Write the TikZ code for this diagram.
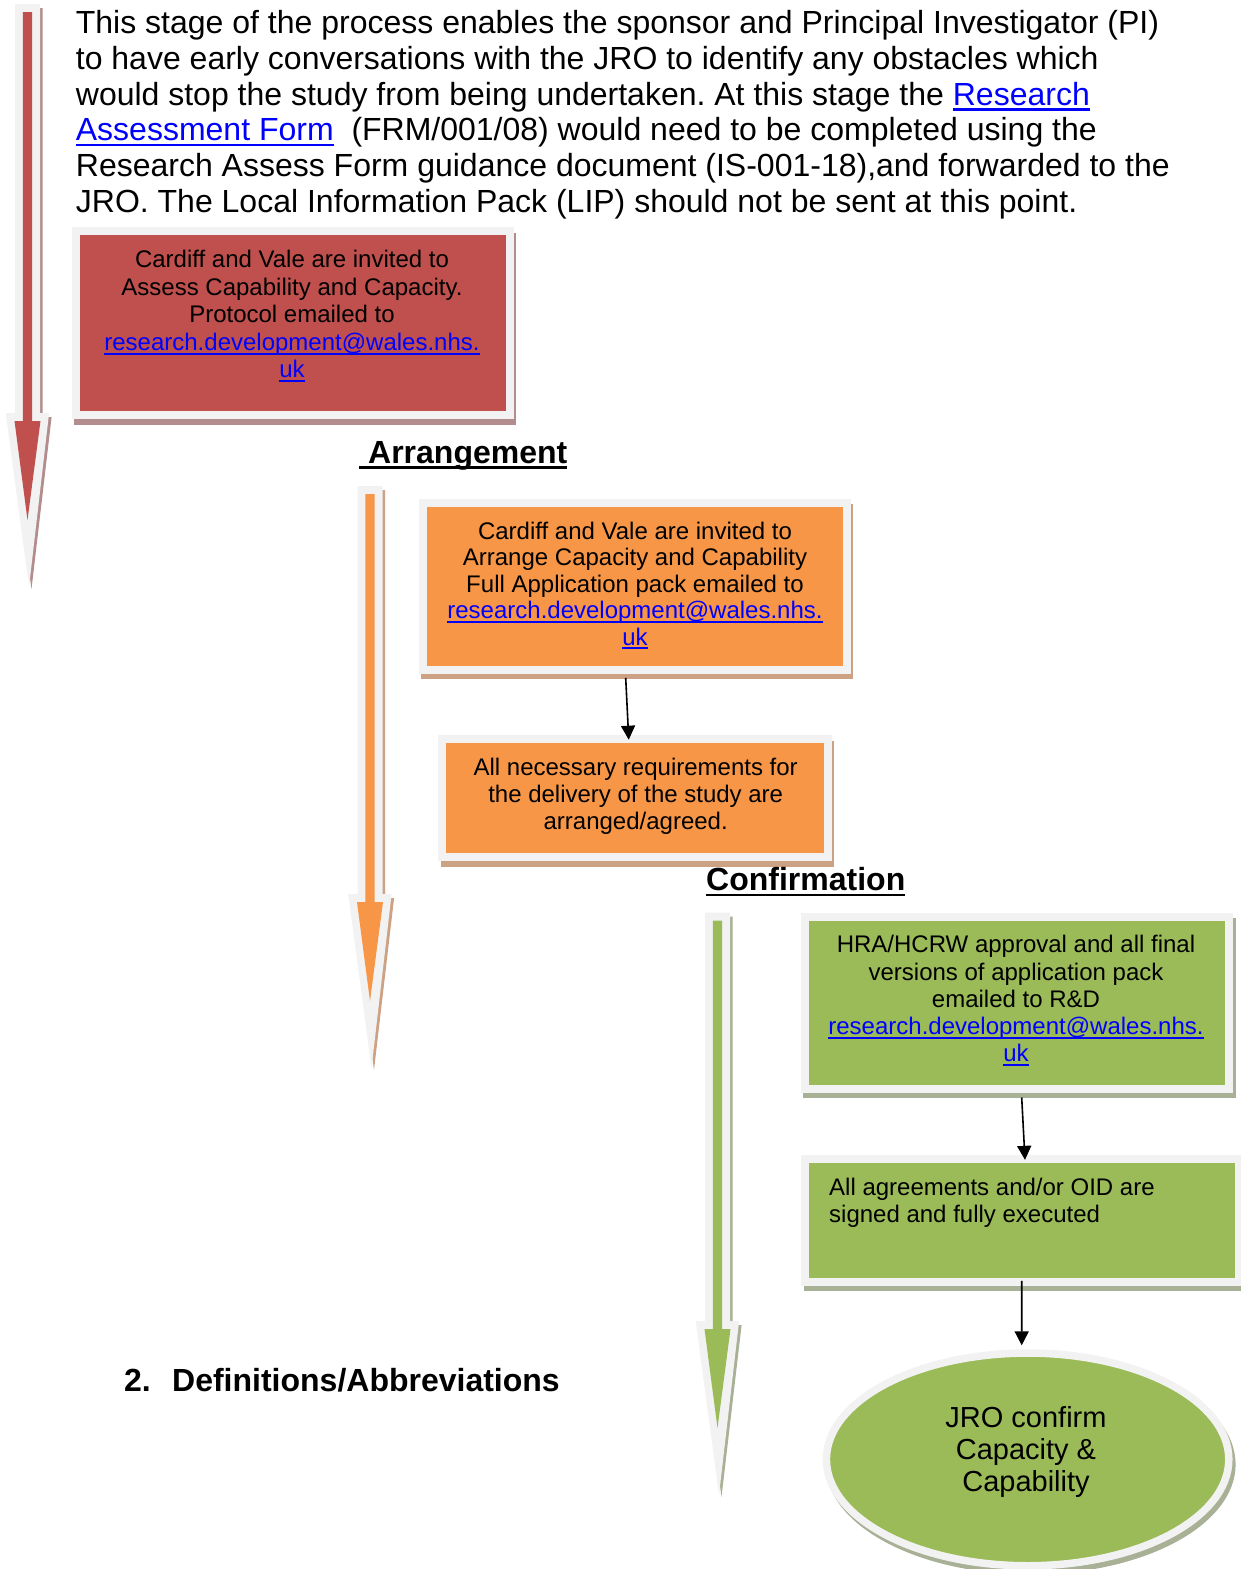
\documentclass[tikz,border=0pt]{standalone}
\usepackage{fontspec}
\setmainfont{Liberation Sans}
\usetikzlibrary{arrows.meta,calc,backgrounds,shapes.geometric}

\definecolor{redfill}{HTML}{C0504D}
\definecolor{orangefill}{HTML}{F79646}
\definecolor{greenfill}{HTML}{9BBB59}
\definecolor{rim}{HTML}{F2F2F2}
\definecolor{redsh}{HTML}{B38D8D}
\definecolor{orangesh}{HTML}{CDA284}
\definecolor{greensh}{HTML}{A8B095}
\definecolor{linkblue}{HTML}{0000FF}

\frenchspacing
\newsavebox{\ulbox}
\newcommand{\myul}[1]{\leavevmode\sbox{\ulbox}{#1}\rlap{\rule[-0.17em]{\wd\ulbox}{0.08em}}\usebox{\ulbox}}
\newcommand{\lnk}[1]{\textcolor{linkblue}{\myul{#1}}}
\newcommand{\paraf}{\fontsize{32}{35.8}\selectfont\frenchspacing}
\newcommand{\boxf}{\fontsize{24}{27.2}\selectfont\frenchspacing}
\newcommand{\ovalf}{\fontsize{29}{32}\selectfont}
\newcommand{\headf}{\fontsize{32}{36}\selectfont\bfseries}

% big soft-edged down arrow: #1 centre x, #2 top, #3 head base, #4 fill, #5 shadow
\newcommand{\bigarrow}[5]{%
  \fill[#5] ({#1-12.5+2.5},{#2+4}) -- ({#1+12.5+2.5},{#2+4}) -- ({#1+12.5+2.5},{#3+4})
     -- ({#1+21.6+2.5},{#3+4}) -- ({#1+1.5+2.5},{#3+174+2}) -- ({#1-21.8+2.5},{#3+4})
     -- ({#1-12.5+2.5},{#3+4}) -- cycle;
  \fill[rim] ({#1-12.5},{#2}) -- ({#1+12.5},{#2}) -- ({#1+12.5},{#3})
     -- ({#1+21.6},{#3}) -- ({#1+1.5},{#3+174}) -- ({#1-21.8},{#3})
     -- ({#1-12.5},{#3}) -- cycle;
  \fill[#4] ({#1-4.6},{#2+8}) -- ({#1+4.6},{#2+8}) -- ({#1+4.6},{#3+8})
     -- ({#1+13},{#3+8}) -- ({#1},{#3+107}) -- ({#1-13},{#3+8})
     -- ({#1-4.6},{#3+8}) -- cycle;
}

\begin{document}
\begin{tikzpicture}[x=1pt,y=-1pt,
  card/.style={rectangle, draw=rim, line width=8pt, inner sep=0pt},
  bodytext/.style={inner sep=0pt, align=center, font=\boxf},
  flow/.style={line width=1.6pt, -{Triangle[length=14pt,width=14pt]}},
  heading/.style={inner sep=0pt, anchor=base west, font=\headf}]
\useasboundingbox (0,0) rectangle (1241,1569);

% big stage arrows
\bigarrow{27.5}{4}{413}{redfill}{redsh}
\bigarrow{370}{486}{894}{orangefill}{orangesh}
\bigarrow{717.5}{912.7}{1321}{greenfill}{greensh}

% intro paragraph
\node[anchor=north west, inner sep=0pt, align=left, font=\paraf] (intro) at (75.7,8.3)
 {\strut This stage of the process enables the sponsor and Principal Investigator (PI)\\
  to have early conversations with the JRO to identify any obstacles which\\
  would stop the study from being undertaken. At this stage the \lnk{Research}\\
  \lnk{Assessment Form}\ \ (FRM/001/08) would need to be completed using the\\
  Research Assess Form guidance document (IS-001-18),and forwarded to the\\
  JRO. The Local Information Pack (LIP) should not be sent at this point.};

% assessment box
\node[card, fill=redfill, minimum width=434pt, minimum height=184pt] (assess) at (292.5,323) {};
\node[bodytext, font=\fontsize{24}{27.5}\selectfont, anchor=north] (assesstext) at (292,248.5)
 {\strut Cardiff and Vale are invited to\\ Assess Capability and Capacity.\\ Protocol emailed to\\
  \lnk{research.development@wales.nhs.}\\ \lnk{uk}};

% arrangement
\node[heading] (arrhead) at (359.1,463.5) {\myul{\ Arrangement}};
\node[card, fill=orangefill, minimum width=423.8pt, minimum height=167pt] (arrange) at (634.8,586.4) {};
\node[bodytext, font=\fontsize{24}{26.5}\selectfont, anchor=north] (arrangetext) at (635,520.5)
 {\strut Cardiff and Vale are invited to\\ Arrange Capacity and Capability\\ Full Application pack emailed to\\
  \lnk{research.development@wales.nhs.}\\ \lnk{uk}};
\node[card, fill=orangefill, minimum width=385.5pt, minimum height=117.6pt] (prereq) at (634.75,798.2) {};
\node[bodytext, anchor=north] (prereqtext) at (635.7,756)
 {\strut All necessary requirements for\\ the delivery of the study are\\ arranged/agreed.};

% confirmation
\node[heading] (confhead) at (706,890.7) {\myul{Confirmation}};
\node[card, fill=greenfill, minimum width=424.3pt, minimum height=172pt] (hra) at (1017,1002.9) {};
\node[bodytext, anchor=north] (hratext) at (1016,933.6)
 {\strut HRA/HCRW approval and all final\\ versions of application pack\\ emailed to R\&D\\
  \lnk{research.development@wales.nhs.}\\ \lnk{uk}};
\node[card, fill=greenfill, minimum width=434pt, minimum height=123.1pt] (agree) at (1022,1220.4) {};
\node[bodytext, font=\fontsize{24}{27.6}\selectfont, align=left, anchor=north west] (agreetext) at (829,1175.5)
 {\strut All agreements and/or OID are\\ signed and fully executed};
\node[ellipse, draw=rim, line width=7.5pt, fill=greenfill, inner sep=0pt,
      minimum width=402.4pt, minimum height=212.7pt] (jro) at (1027.6,1459.4) {};
\node[inner sep=0pt, align=center, font=\ovalf, anchor=north] (jrotext) at (1026,1404.5)
 {\strut JRO confirm\\ Capacity \&\\ Capability};

% definitions heading
\node[heading] (defhead) at (124,1391.5) {2.\hspace{21.3pt}Definitions/Abbreviations};

% shadows
\begin{scope}[on background layer]
  \fill[redsh] ($(assess.north west)+(2.5,5.5)$) rectangle ($(assess.south east)+(2.5,5.5)$);
  \fill[orangesh] ($(arrange.north west)+(2.5,5.5)$) rectangle ($(arrange.south east)+(2.5,5.5)$);
  \fill[orangesh] ($(prereq.north west)+(2.5,5.5)$) rectangle ($(prereq.south east)+(2.5,5.5)$);
  \fill[greensh] ($(hra.north west)+(2.5,5.5)$) rectangle ($(hra.south east)+(2.5,5.5)$);
  \fill[greensh] ($(agree.north west)+(2.5,5.5)$) rectangle ($(agree.south east)+(2.5,5.5)$);
  \fill[greensh] ($(jro.center)+(3,5)$) ellipse [x radius=205pt, y radius=110pt];
\end{scope}

% flow connectors
\draw[flow] ([xshift=-9.1pt,yshift=-4pt]arrange.south) -- ([xshift=-6pt,yshift=-4.3pt]prereq.north);
\draw[flow] ([xshift=4.7pt,yshift=-4.6pt]hra.south) -- ([xshift=3pt,yshift=-5pt]agree.north);
\draw[flow] ([xshift=-0.3pt,yshift=5pt]agree.south) -- ([xshift=-5.9pt,yshift=4pt]jro.north);
\end{tikzpicture}
\end{document}
